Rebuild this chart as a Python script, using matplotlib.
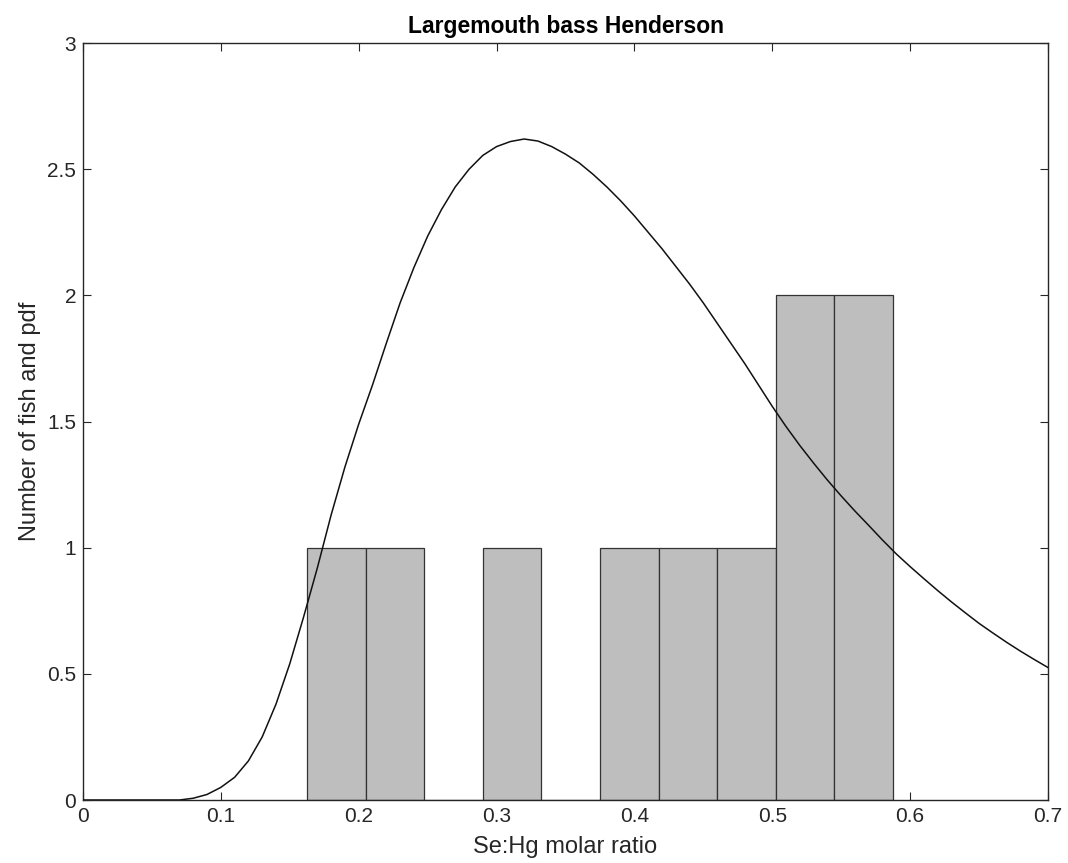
import matplotlib
matplotlib.use("Agg")
import matplotlib.pyplot as plt
from matplotlib.ticker import FixedLocator, FixedFormatter

plt.rcParams['font.family'] = ['Liberation Sans', 'DejaVu Sans']

# Histogram bins (edges) and counts
bin_edges = [0.1625, 0.2050, 0.2475, 0.2900, 0.3325, 0.3750, 0.4175, 0.4600, 0.5025, 0.5450, 0.5875]
counts = [1, 1, 0, 1, 0, 1, 1, 1, 2, 2]

# Fitted pdf curve
pdf_x = [0.000, 0.060, 0.070, 0.080, 0.090, 0.100, 0.110, 0.120, 0.130, 0.140,
         0.150, 0.160, 0.170, 0.180, 0.190, 0.200, 0.210, 0.220, 0.230, 0.240,
         0.250, 0.260, 0.270, 0.280, 0.290, 0.300, 0.310, 0.320, 0.330, 0.340,
         0.350, 0.360, 0.370, 0.380, 0.390, 0.400, 0.410, 0.420, 0.430, 0.440,
         0.450, 0.460, 0.470, 0.480, 0.490, 0.500, 0.510, 0.520, 0.530, 0.540,
         0.550, 0.560, 0.570, 0.580, 0.590, 0.600, 0.610, 0.620, 0.630, 0.640,
         0.650, 0.660, 0.670, 0.680, 0.690, 0.700]
pdf_y = [0.000, 0.000, 0.000, 0.007, 0.022, 0.050, 0.090, 0.155, 0.250, 0.380,
         0.540, 0.725, 0.920, 1.130, 1.320, 1.490, 1.645, 1.810, 1.970, 2.110,
         2.235, 2.340, 2.430, 2.500, 2.555, 2.590, 2.610, 2.620, 2.612, 2.590,
         2.560, 2.525, 2.480, 2.430, 2.375, 2.315, 2.250, 2.185, 2.115, 2.045,
         1.970, 1.890, 1.810, 1.730, 1.645, 1.560, 1.480, 1.405, 1.335, 1.268,
         1.205, 1.145, 1.088, 1.030, 0.975, 0.925, 0.877, 0.830, 0.785, 0.742,
         0.700, 0.662, 0.625, 0.590, 0.557, 0.525]

x_ticks = [0, 0.1, 0.2, 0.3, 0.4, 0.5, 0.6, 0.7]
x_tick_labels = ["0", "0.1", "0.2", "0.3", "0.4", "0.5", "0.6", "0.7"]
y_ticks = [0, 0.5, 1, 1.5, 2, 2.5, 3]
y_tick_labels = ["0", "0.5", "1", "1.5", "2", "2.5", "3"]

fig = plt.figure(figsize=(10.68, 8.63), dpi=100)
ax = fig.add_axes([0.0777, 0.073, 0.9036, 0.877])

lefts = bin_edges[:-1]
widths = [b - a for a, b in zip(bin_edges[:-1], bin_edges[1:])]
ax.bar(lefts, counts, width=widths, align='edge', color='#bebebe',
       edgecolor='#333333', linewidth=0.9, zorder=2)
ax.plot(pdf_x, pdf_y, color='#111111', linewidth=1.1, zorder=3,
        solid_joinstyle='round')

ax.set_xlim(0, 0.7)
ax.set_ylim(0, 3)
ax.xaxis.set_major_locator(FixedLocator(x_ticks))
ax.xaxis.set_major_formatter(FixedFormatter(x_tick_labels))
ax.yaxis.set_major_locator(FixedLocator(y_ticks))
ax.yaxis.set_major_formatter(FixedFormatter(y_tick_labels))
ax.tick_params(direction='in', top=True, right=True, length=6, width=0.8,
               labelsize=15, colors='#262626', pad=5)
for s in ax.spines.values():
    s.set_linewidth(1.0)
    s.set_color('#262626')

ax.set_title("Largemouth bass Henderson", fontsize=16.5, fontweight='bold', pad=7)
ax.set_xlabel("Se:Hg molar ratio", fontsize=17, labelpad=7, color='#262626')
ax.set_ylabel("Number of fish and pdf", fontsize=17, labelpad=4, color='#262626')

fig.savefig("out.png", dpi=100)
